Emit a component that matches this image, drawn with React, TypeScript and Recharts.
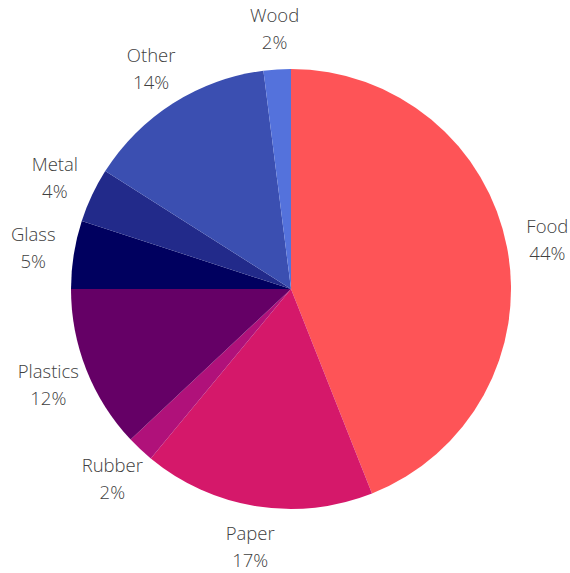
import React from "react";
import { PieChart, Pie, Cell } from "recharts";

const categories = ["Food", "Paper", "Rubber", "Plastics", "Glass", "Metal", "Other", "Wood"];
const shares = [44, 17, 2, 12, 5, 4, 14, 2];
const sliceColors = ["#fe5457", "#d5186a", "#b0117a", "#650066", "#00005f", "#222a8a", "#3b4fb1", "#5472dc"];

const data = categories.map((name, i) => ({ name, value: shares[i] }));

const RAD = Math.PI / 180;

// two-line label (name + percent) centred outside each slice
const renderLabel = (props: any) => {
  const { cx, cy, midAngle, outerRadius, index } = props;
  const r = outerRadius + 41;
  const x = cx + r * Math.cos(-midAngle * RAD);
  const y = cy + r * Math.sin(-midAngle * RAD);
  return (
    <text
      x={x}
      y={y}
      textAnchor="middle"
      fill="#404040"
      fontFamily="'Open Sans', sans-serif"
      fontWeight={300}
      fontSize={18.5}
    >
      <tspan x={x} dy={-7}>{categories[index]}</tspan>
      <tspan x={x} dy={27}>{shares[index]}%</tspan>
    </text>
  );
};

export default function App() {
  return (
    <div style={{ position: "absolute", left: 0, top: 0 }}>
      <PieChart width={570} height={573} margin={{ top: 0, right: 0, bottom: 0, left: 0 }}>
        <Pie
          data={data}
          dataKey="value"
          cx={291}
          cy={289}
          outerRadius={220}
          startAngle={90}
          endAngle={-270}
          stroke="none"
          label={renderLabel}
          labelLine={false}
          isAnimationActive={false}
        >
          {data.map((entry, index) => (
            <Cell key={`cell-${index}`} fill={sliceColors[index]} />
          ))}
        </Pie>
      </PieChart>
    </div>
  );
}
